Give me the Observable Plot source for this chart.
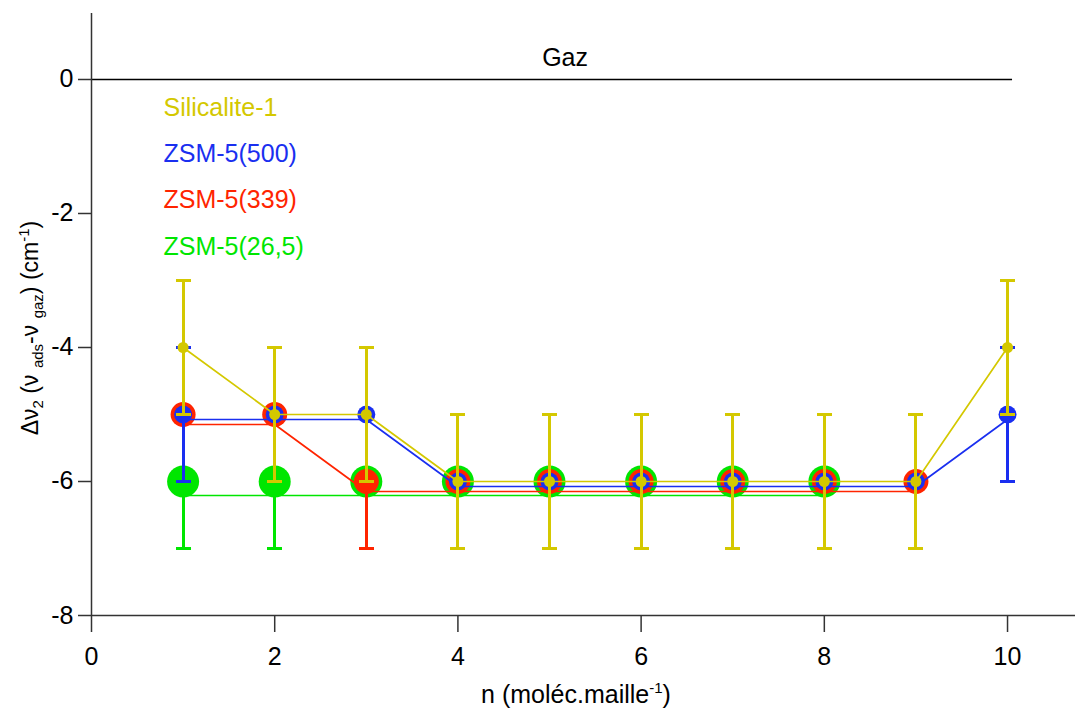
<!DOCTYPE html>
<html><head><meta charset="utf-8">
<script src="https://cdn.jsdelivr.net/npm/d3@7"></script>
<script src="https://cdn.jsdelivr.net/npm/@observablehq/plot@0.6"></script>
<style>body{margin:0;background:#fff} svg{display:block}</style>
</head><body><div id="chart"></div>
<script>
// ---- data ----
const xValues = [1, 2, 3, 4, 5, 6, 7, 8, 9, 10];
const silicalite1 = [-4, -5, -5, -6, -6, -6, -6, -6, -6, -4];
const zsm5_500 = [-5, -5, -5, -6, -6, -6, -6, -6, -6, -5];
const zsm5_339 = [-5, -5, -6, -6, -6, -6, -6, -6, -6];
const zsm5_265 = [-6, -6, -6, -6, -6, -6, -6, -6];
const errorHalf = 1;
const seriesNames = ["Silicalite-1", "ZSM-5(500)", "ZSM-5(339)", "ZSM-5(26,5)"];
const yTicks = [-8, -6, -4, -2, 0];
const xTicks = [0, 2, 4, 6, 8, 10];
const gazLabel = [{x: 5.17, y: 0, text: "Gaz"}];

// ---- styles ----
const FONT = "Liberation Sans, Arial, Helvetica, sans-serif";
const styles = {
  "Silicalite-1": {color: "#d4c800", r: 5.5, dy: 0},
  "ZSM-5(500)": {color: "#1a2ff0", r: 9, dy: 5},
  "ZSM-5(339)": {color: "#ff2400", r: 12.5, dy: 10},
  "ZSM-5(26,5)": {color: "#00e600", r: 16, dy: 14}
};
const seriesValues = {
  "Silicalite-1": silicalite1,
  "ZSM-5(500)": zsm5_500,
  "ZSM-5(339)": zsm5_339,
  "ZSM-5(26,5)": zsm5_265
};
const capSymbol = {
  draw(context, size) {
    const r = Math.sqrt(size / Math.PI);
    context.moveTo(-r, 0);
    context.lineTo(r, 0);
  }
};

const drawOrder = ["ZSM-5(26,5)", "ZSM-5(339)", "ZSM-5(500)", "Silicalite-1"];
const seriesMarks = [];
for (const name of drawOrder) {
  const s = styles[name];
  const rows = seriesValues[name].map((v, i) => ({x: xValues[i], y: v}));
  seriesMarks.push(
    Plot.line(rows, {x: "x", y: "y", stroke: s.color, strokeWidth: 1.7, dy: s.dy}),
    Plot.ruleX(rows, {x: "x", y1: d => d.y - errorHalf, y2: d => d.y + errorHalf, stroke: s.color, strokeWidth: 3, shapeRendering: "crispEdges"}),
    Plot.dot(rows, {x: "x", y: d => d.y - errorHalf, symbol: capSymbol, r: 7.5, stroke: s.color, fill: "none", strokeWidth: 3, shapeRendering: "crispEdges"}),
    Plot.dot(rows, {x: "x", y: d => d.y + errorHalf, symbol: capSymbol, r: 7.5, stroke: s.color, fill: "none", strokeWidth: 3, shapeRendering: "crispEdges"}),
    Plot.dot(rows, {x: "x", y: "y", r: s.r, fill: s.color, stroke: "none"})
  );
}

const legendOffsets = [94, 140, 186, 233];
const legendMarks = seriesNames.map((name, i) =>
  Plot.text([name], {text: d => d, frameAnchor: "top-left", dx: 72, dy: legendOffsets[i],
    textAnchor: "start", lineAnchor: "middle", fill: styles[name].color, fontSize: 25})
);

const chart = Plot.plot({
  width: 1077,
  height: 715,
  marginLeft: 91,
  marginRight: 2,
  marginTop: 13,
  marginBottom: 100,
  style: {fontFamily: FONT, background: "white", color: "#000"},
  x: {domain: [0, 10.742]},
  y: {domain: [-8, 0.985]},
  marks: [
    Plot.ruleY([0], {x1: 0, x2: 10, insetRight: -5, stroke: "#000", strokeWidth: 1.5}),
    Plot.text(gazLabel, {x: "x", y: "y", text: "text", dy: -21, fontSize: 25, fill: "#000"}),
    ...seriesMarks,
    ...legendMarks,
    Plot.ruleX([0], {stroke: "#333", strokeWidth: 1.5}),
    Plot.ruleY([-8], {stroke: "#333", strokeWidth: 1.5}),
    Plot.axisY({ticks: yTicks, tickSize: 13, tickPadding: 5, fontSize: 25, label: null,
      tickFormat: d => String(d), stroke: "#333", fill: "#000", strokeWidth: 1.5}),
    Plot.axisX({ticks: xTicks, tickSize: 17, tickPadding: 15, fontSize: 25, label: null,
      tickFormat: d => String(d), stroke: "#333", fill: "#000", strokeWidth: 1.5})
  ]
});
document.getElementById("chart").appendChild(chart);

// ---- axis titles with sub/superscripts ----
const svg = d3.select(chart);
const yt = svg.append("text")
  .attr("transform", "translate(38,328) rotate(-90)")
  .attr("text-anchor", "middle")
  .attr("font-family", FONT)
  .attr("font-size", 23)
  .attr("fill", "#000");
const parts = [
  ["Δν", 0], ["2", 1], [" (ν ", 0], ["ads", 1], ["-ν ", 0], ["gaz", 1], [") (cm", 0], ["-1", 2], [")", 0]
];
let shift = 0;
for (const [t, kind] of parts) {
  const target = kind === 1 ? 5 : kind === 2 ? -9 : 0;
  yt.append("tspan")
    .attr("dy", target - shift)
    .attr("font-size", kind ? 15 : 23)
    .text(t);
  shift = target;
}

const xt = svg.append("text")
  .attr("x", 576).attr("y", 703)
  .attr("text-anchor", "middle")
  .attr("font-family", FONT)
  .attr("font-size", 25)
  .attr("fill", "#000");
xt.append("tspan").text("n (moléc.maille");
xt.append("tspan").attr("dy", -10).attr("font-size", 15).text("-1");
xt.append("tspan").attr("dy", 10).text(")");
</script>
</body></html>
